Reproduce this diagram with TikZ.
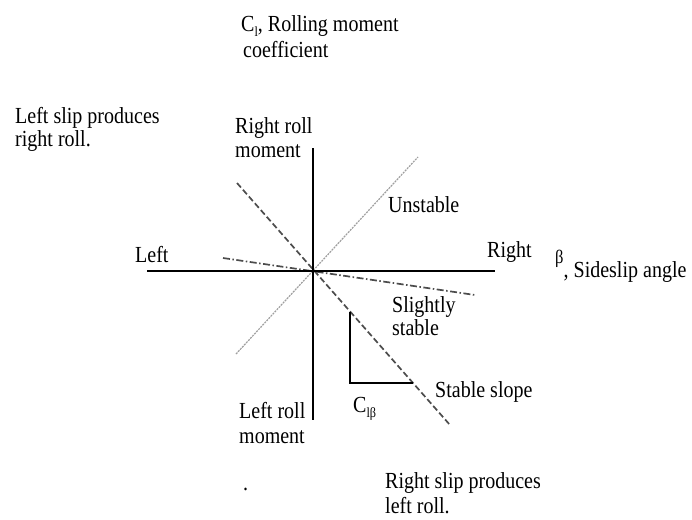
\documentclass[tikz,border=0pt]{standalone}
\usepackage{fontspec}
\setmainfont{Liberation Serif}[FakeStretch=0.87]
\newcommand\mysub[1]{\raisebox{-0.25em}{\fontsize{14}{14}\selectfont #1}}
\tikzset{
  lbl/.style={anchor=base west, inner sep=0pt, font=\fontsize{23}{26}\selectfont},
  axis/.style={line width=2.8pt, black},
  unstableline/.style={line width=1.2pt, gray!75, dash pattern=on 2pt off 1pt},
  stableline/.style={line width=1.7pt, black!70, dash pattern=on 6pt off 3pt},
  slightline/.style={line width=1.7pt, black!70, dash pattern=on 7pt off 2.5pt on 1.5pt off 2.5pt},
  tri/.style={line width=1.4pt, black}
}
\begin{document}
\begin{tikzpicture}[x=1pt,y=-1pt]
\useasboundingbox (0,0) rectangle (692,519);
% coordinates
\coordinate (O) at (313,271);
\coordinate (hl) at (147,271);
\coordinate (hr) at (495,271);
\coordinate (vt) at (313,148);
\coordinate (vb) at (313,420);
\coordinate (u1) at (236,354);
\coordinate (u2) at (418,157);
\coordinate (s1) at (237,183);
\coordinate (s2) at (450,425);
\coordinate (d1) at (223,258);
\coordinate (d2) at (475,295);
\coordinate (t1) at (350,311.5);
\coordinate (t2) at (350,383);
\coordinate (t3) at (413,383);
% lines
\draw[unstableline] (u1) -- (u2);
\draw[stableline] (s1) -- (s2);
\draw[slightline] (d1) -- (d2);
\draw[axis] (hl) -- (hr);
\draw[axis] (vt) -- (vb);
\draw[tri] (t1) -- (t2) -- (t3);
% labels
\node[lbl] (cl1) at (241,31) {C\mysub{l}, Rolling moment};
\node[lbl] (cl2) at (243,57) {coefficient};
\node[lbl] (ls1) at (15,123) {Left slip produces};
\node[lbl] (ls2) at (15,146) {right roll.};
\node[lbl] (rr1) at (235,133) {Right roll};
\node[lbl] (rr2) at (235,157) {moment};
\node[lbl] (uns) at (388,212) {Unstable};
\node[lbl] (lft) at (135,262) {Left};
\node[lbl] (rgt) at (487,257) {Right};
\node[lbl] (beta) at (555,277) {\raisebox{14pt}{\fontsize{19}{19}\selectfont β}, Sideslip angle};
\node[lbl] (sl1) at (392,312) {Slightly};
\node[lbl] (sl2) at (392,335) {stable};
\node[lbl] (stb) at (435,397) {Stable slope};
\node[lbl] (clb) at (353,412) {C\mysub{lβ}};
\node[lbl] (lr1) at (239,418) {Left roll};
\node[lbl] (lr2) at (239,443) {moment};
\node[lbl] (rs1) at (385,488) {Right slip produces};
\node[lbl] (rs2) at (385,513) {left roll.};
\node[lbl] (dot) at (243,490) {.};
\end{tikzpicture}
\end{document}
